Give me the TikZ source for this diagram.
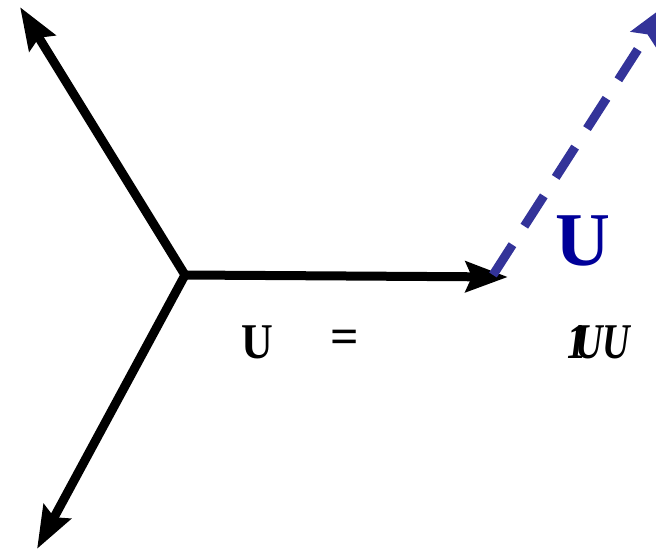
\documentclass[tikz,border=0pt]{standalone}
\usepackage{fontspec}
\setmainfont{Liberation Serif}
\usetikzlibrary{arrows.meta}
\definecolor{dashblue}{RGB}{51,51,153}
\definecolor{textblue}{RGB}{0,0,153}
\tikzset{
  phasor/.style={line width=9pt, -{Stealth[length=42pt,width=30pt,inset=6pt]}},
  dashphasor/.style={dashblue, line width=9pt, dash pattern=on 36pt off 22pt, -{Stealth[length=42pt,width=30pt,inset=6pt]}},
  lbl/.style={inner sep=0pt, font=\fontsize{50}{50}\selectfont\bfseries}
}
\begin{document}
\begin{tikzpicture}[x=1pt,y=-1pt]
\useasboundingbox (0,0) rectangle (656,551);
\clip (0,0) rectangle (656,551);
\coordinate (O) at (185,275);
\coordinate (A) at (20,7);
\coordinate (B) at (37,549);
\coordinate (C) at (508,277);
\coordinate (D0) at (493,275);
\coordinate (D) at (667,4);
\draw[phasor] (O) -- (A);
\draw[phasor] (O) -- (B);
\draw[phasor] (O) -- (C);
\draw[dashphasor] (D0) -- (D);
\node[lbl] (u1) at (257.5,342) {\scalebox{0.88}[1]{U}};
\node[lbl] (eq) at (345,342) {=};
\node[lbl] (uu) at (599,342) {\scalebox{0.76}[1]{\itshape 1\kern-0.3em UU}};
\node[inner sep=0pt, text=textblue, font=\fontsize{76}{76}\selectfont\bfseries] (ub) at (583,241) {U};
\end{tikzpicture}
\end{document}
